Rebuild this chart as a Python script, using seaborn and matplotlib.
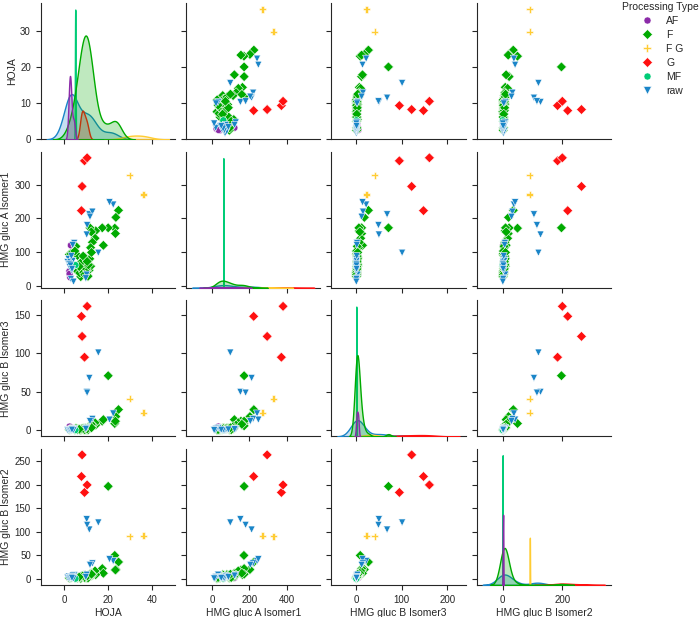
import pandas as pd
import seaborn as sns
import matplotlib.pyplot as plt

# processing type of every sample, and the four measured variables
proc_type = (["AF"] * 5 + ["F"] * 44 + ["F G"] * 2 + ["G"] * 4 + ["MF"] * 2 + ["raw"] * 24)

hoja = [2.7, 2.3, 4.3, 3.0, 2.4,
        24.7, 23.5, 23.0, 23.3, 20.0, 17.3, 17.8, 14.3, 14.0, 12.8, 12.0, 11.7, 12.3,
        2.3, 3.0, 6.0, 5.3, 4.8, 8.3, 9.5, 9.0, 8.0, 6.0, 7.5, 9.8, 11.3, 12.0, 10.5,
        7.0, 8.5, 9.2, 10.2, 8.8, 10.0, 9.6, 11.0, 10.8, 7.8, 9.3, 11.6, 8.6, 10.4, 6.8, 12.4,
        29.8, 36.1,
        7.8, 8.1, 9.2, 10.4,
        4.9, 5.085,
        15.5, 11.4, 10.2, 10.4, 22.3, 20.6, 12.8, 11.7,
        1.5, 2.0, 2.7, 3.8, 4.5, 3.8, 2.2, 10.2, 9.8, 3.0, 3.4, 2.5, 4.2,
        2.8, 3.2, 3.5]

gluc_a1 = [25, 43, 100, 120, 35,
           224, 203, 171, 155, 172, 172, 120, 163, 141, 129, 113, 172, 160,
           93, 95, 90, 117, 103, 74, 84, 60, 51, 43, 27, 36, 46, 58, 31,
           38, 45, 55, 40, 40, 50, 66, 62, 28, 70, 33, 80, 88, 72, 57, 99,
           328, 271,
           223, 295, 371, 380,
           61.0, 61.15,
           98, 212, 152, 180, 241, 248, 220, 205,
           70, 79, 71, 74, 127, 121, 65, 33, 22, 20, 45, 55, 12,
           60, 88, 50]

gluc_b3 = [0.3, 1.5, 2.5, 4.0, 5.0,
           27, 18, 9, 12, 71, 12, 14, 7, 10, 7, 5, 6, 8,
           1, 1.5, 2, 2.5, 1, 2, 3, 2, 1.5, 1, 0.5, 1, 2, 3, 1,
           1, 1.5, 2, 1, 1.2, 2, 2.5, 3, 0.8, 2, 1, 3, 2.5, 2, 1.5, 3.5,
           41, 23,
           148, 122, 95, 161,
           0.3, 0.52,
           101, 68, 50, 49, 22, 14, 15, 12,
           0.5, 1, 0.5, 1, 2, 1.5, 0.3, 3, 2, 0.5, 0.8, 0.6, 0.4,
           0.7, 1.2, 0.9]

gluc_b2 = [0.8, 1.2, 1.8, 2.2, 2.6,
           36, 20, 50, 19, 197, 22, 12, 9, 17, 8, 6, 10, 12,
           2, 3, 4, 5, 3, 6, 8, 5, 4, 2, 1, 3, 5, 9, 2,
           3, 4, 5, 3, 4, 6, 7, 8, 2, 6, 3, 9, 7, 6, 4, 10,
           91, 91.66,
           218, 264, 184, 200,
           0.4, 0.64,
           120, 105, 127, 115, 38, 42, 33, 30,
           3, 5, 2, 6, 8, 7, 1, 9, 4, 2, 3, 2, 1,
           3, 4, 2]

type_order = ["AF", "F", "F G", "G", "MF", "raw"]
type_colors = ["#8B2AA8", "#00AA00", "#FFCC33", "#FF1010", "#00CC77", "#1A85C8"]
type_markers = ["o", "D", "P", "D", "o", "v"]

df = pd.DataFrame({
    "Processing Type": proc_type,
    "HOJA": hoja,
    "HMG gluc A Isomer1": gluc_a1,
    "HMG gluc B Isomer3": gluc_b3,
    "HMG gluc B Isomer2": gluc_b2,
})

sns.set_style("ticks")
plt.rcParams["font.family"] = ["Liberation Sans", "DejaVu Sans"]
plt.rcParams["font.size"] = 7
plt.rcParams["axes.labelsize"] = 7.5
plt.rcParams["axes.labelpad"] = 2.5
plt.rcParams["xtick.labelsize"] = 7
plt.rcParams["ytick.labelsize"] = 7

g = sns.pairplot(df, hue="Processing Type", hue_order=type_order,
                 palette=type_colors, markers=type_markers, height=1.5,
                 plot_kws={"s": 26})
g.figure.set_size_inches(7, 6.17)
g.figure.subplots_adjust(left=0.058, right=0.873, top=0.995, bottom=0.052,
                         wspace=0.08, hspace=0.09)
sns.move_legend(g, "upper left", bbox_to_anchor=(0.875, 1.012), frameon=False,
                title="Processing Type", fontsize=7.5, title_fontsize=7.5,
                labelspacing=0.38)
g.legend._legend_box.align = "center"

g.figure.savefig("out.png", dpi=100)
